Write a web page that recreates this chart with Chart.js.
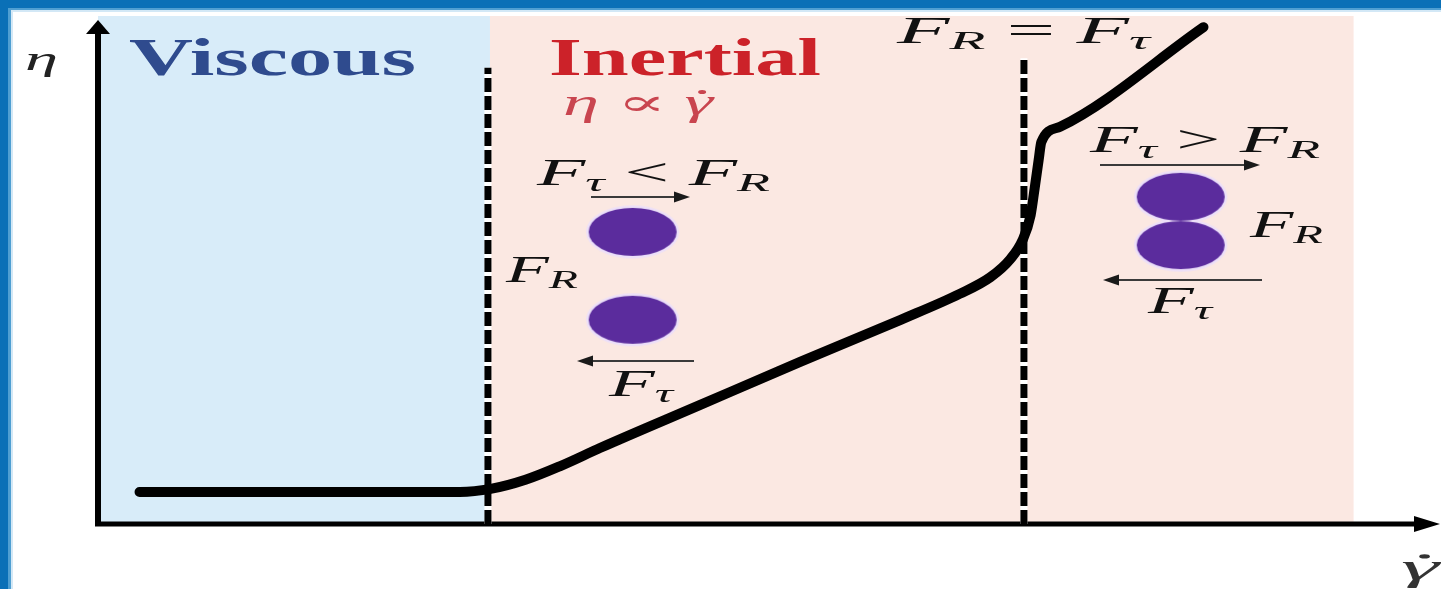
<!DOCTYPE html>
<html lang="en">
<head>
    <meta charset="UTF-8">
    <title>Viscous / Inertial regimes</title>
    <script src="https://cdn.jsdelivr.net/npm/chart.js"></script>
    <style>
        body { margin: 0; background: #fff; }
        canvas { display: block; }
    </style>
</head>
<body>
    <canvas id="regimeChart" width="1441" height="589"></canvas>

    <script>
        // viscosity curve, arbitrary units (shear rate on x, viscosity on y)
        const curveX = [0.31, 1.51, 2.70, 2.93, 3.19, 3.45, 3.75, 4.49, 5.24, 5.99, 6.43, 6.66, 6.81, 6.90, 6.96, 6.99, 7.02, 7.04, 7.18, 8.25];
        const curveY = [0.63, 0.63, 0.63, 0.69, 0.87, 1.14, 1.50, 2.34, 3.19, 4.02, 4.53, 4.86, 5.22, 5.59, 6.08, 6.61, 7.17, 7.52, 7.82, 9.78];

        // regime boundaries on the shear-rate axis
        const regimeNames = ["Viscous", "Inertial"];
        const regimeStart = [0, 2.925];
        const regimeEnd = [2.925, 9.37];

        // dashed transition lines
        const transitionX = [2.91, 6.91];
        const transitionTop = [8.98, 9.17];

        // particle sketches (two apart, two touching)
        const particleX = [3.99, 3.99, 8.08, 8.08];
        const particleY = [5.75, 4.02, 6.44, 5.49];

        const SERIF = '"Liberation Serif", "DejaVu Serif", serif';

        function ellipseCanvas(rx, ry, color) {
            const c = document.createElement("canvas");
            c.width = Math.ceil(rx * 2) + 2;
            c.height = Math.ceil(ry * 2) + 2;
            const g = c.getContext("2d");
            g.fillStyle = color;
            g.beginPath();
            g.ellipse(c.width / 2, c.height / 2, rx, ry, 0, 0, Math.PI * 2);
            g.fill();
            return c;
        }
        const haloImg = ellipseCanvas(46.5, 26.5, "#ecdff9");
        const coreImg = ellipseCanvas(44, 24, "#5b2c9d");

        // text pieces: [text, style] with style i = italic, s = italic subscript, r = roman, b = bold, d = italic with dot
        const labels = [
            { parts: [["η", "i"]], x: 25, base: 70, size: 34, w: 33, color: "#222" },
            { parts: [["Viscous", "b"]], x: 129, base: 75, size: 53, w: 287, color: "#2f4b8e" },
            { parts: [["Inertial", "b"]], x: 549, base: 75, size: 53, w: 272, color: "#cc2229" },
            { parts: [["η", "i"], [" ∝ ", "r"], ["γ", "d"]], x: 563, base: 115, size: 37, w: 150, color: "#c9454f" },
            { parts: [["F", "i"], ["R", "s"], [" = ", "r"], ["F", "i"], ["τ", "s"]], x: 897, base: 43, size: 38, w: 253, color: "#111" },
            { parts: [["F", "i"], ["τ", "s"], [" < ", "r"], ["F", "i"], ["R", "s"]], x: 537, base: 185, size: 38, w: 233, color: "#111" },
            { parts: [["F", "i"], ["R", "s"]], x: 506, base: 282, size: 38, w: 72, color: "#111" },
            { parts: [["F", "i"], ["τ", "s"]], x: 609, base: 396, size: 38, w: 64, color: "#111" },
            { parts: [["F", "i"], ["τ", "s"], [" > ", "r"], ["F", "i"], ["R", "s"]], x: 1090, base: 152, size: 38, w: 230, color: "#111" },
            { parts: [["F", "i"], ["R", "s"]], x: 1250, base: 237, size: 38, w: 73, color: "#111" },
            { parts: [["F", "i"], ["τ", "s"]], x: 1148, base: 313, size: 38, w: 64, color: "#111" },
            { parts: [["γ", "d"]], x: 1401, base: 580, size: 38, w: 38, color: "#333" }
        ];

        // force arrows: from x1 to tip x2 at height y
        const arrows = [
            [591, 690, 197],
            [694, 577, 361],
            [1100, 1260, 165],
            [1262, 1103, 280]
        ];

        function partFont(style, size) {
            if (style === "b") return "bold " + size + "px " + SERIF;
            if (style === "r") return size + "px " + SERIF;
            if (style === "s") return "italic " + Math.round(size * 0.68) + "px " + SERIF;
            return "italic " + size + "px " + SERIF;
        }

        function drawLabel(ctx, lab) {
            let natural = 0;
            lab.parts.forEach(p => {
                ctx.font = partFont(p[1], lab.size);
                natural += ctx.measureText(p[0]).width;
            });
            const sx = lab.w / natural;
            ctx.save();
            ctx.translate(lab.x, lab.base);
            ctx.scale(sx, 1);
            ctx.fillStyle = lab.color;
            ctx.textBaseline = "alphabetic";
            let cx = 0;
            lab.parts.forEach(p => {
                ctx.font = partFont(p[1], lab.size);
                const pw = ctx.measureText(p[0]).width;
                const dy = p[1] === "s" ? lab.size * 0.17 : 0;
                ctx.fillText(p[0], cx, dy);
                if (p[1] === "d") {
                    ctx.beginPath();
                    ctx.arc(cx + pw * 0.62, -lab.size * 0.62, lab.size * 0.055, 0, Math.PI * 2);
                    ctx.fill();
                }
                cx += pw;
            });
            ctx.restore();
        }

        function arrowHead(ctx, tipX, tipY, dirX, dirY, len, half) {
            const nx = -dirY, ny = dirX;
            ctx.beginPath();
            ctx.moveTo(tipX, tipY);
            ctx.lineTo(tipX - dirX * len + nx * half, tipY - dirY * len + ny * half);
            ctx.lineTo(tipX - dirX * len - nx * half, tipY - dirY * len - ny * half);
            ctx.closePath();
            ctx.fill();
        }

        const framePlugin = {
            id: "frame",
            beforeDraw(chart) {
                const ctx = chart.ctx;
                ctx.save();
                ctx.fillStyle = "#ffffff";
                ctx.fillRect(0, 0, chart.width, chart.height);
                ctx.fillStyle = "#d3e8f6";
                ctx.fillRect(0, 0, chart.width, 12);
                ctx.fillRect(0, 0, 13, chart.height);
                ctx.fillStyle = "#4f9fd2";
                ctx.fillRect(0, 0, chart.width, 10);
                ctx.fillRect(0, 0, 11, chart.height);
                ctx.fillStyle = "#0a70b7";
                ctx.fillRect(0, 0, chart.width, 8);
                ctx.fillRect(0, 0, 8, chart.height);
                ctx.restore();
            },
            beforeDatasetsDraw(chart) {
                const ctx = chart.ctx;
                const xs = chart.scales.x, ys = chart.scales.y;
                const fills = ["#d8ecf9", "#fbe8e2"];
                ctx.save();
                regimeNames.forEach((name, i) => {
                    const l = xs.getPixelForValue(regimeStart[i]);
                    const r = xs.getPixelForValue(regimeEnd[i]);
                    const t = ys.getPixelForValue(ys.max);
                    const b = ys.getPixelForValue(0);
                    ctx.fillStyle = fills[i];
                    ctx.fillRect(l, t, r - l, b - t);
                });

                // axes with arrow heads
                const x0 = xs.getPixelForValue(0), y0 = ys.getPixelForValue(0);
                ctx.strokeStyle = "#000";
                ctx.fillStyle = "#000";
                ctx.lineWidth = 6;
                ctx.beginPath();
                ctx.moveTo(x0, y0 + 2);
                ctx.lineTo(x0, 32);
                ctx.stroke();
                arrowHead(ctx, x0, 20, 0, -1, 14, 12);
                ctx.lineWidth = 5;
                ctx.beginPath();
                ctx.moveTo(x0 - 3, y0);
                ctx.lineTo(1418, y0);
                ctx.stroke();
                arrowHead(ctx, 1440, y0, 1, 0, 26, 8);
                ctx.restore();
            },
            afterDatasetsDraw(chart) {
                const ctx = chart.ctx;
                ctx.save();
                ctx.strokeStyle = "#3a3a3a";
                ctx.fillStyle = "#1a1a1a";
                ctx.lineWidth = 2;
                arrows.forEach(a => {
                    const dir = a[1] > a[0] ? 1 : -1;
                    ctx.beginPath();
                    ctx.moveTo(a[0], a[2]);
                    ctx.lineTo(a[1] - dir * 10, a[2]);
                    ctx.stroke();
                    arrowHead(ctx, a[1], a[2], dir, 0, 16, 5.5);
                });
                labels.forEach(lab => drawLabel(ctx, lab));
                ctx.restore();
            }
        };

        const curve = curveX.map((x, i) => ({ x: x, y: curveY[i] }));
        const particles = particleX.map((x, i) => ({ x: x, y: particleY[i] }));

        const datasets = [{
            label: "viscosity",
            data: curve,
            borderColor: "#000",
            borderWidth: 10,
            cubicInterpolationMode: "monotone",
            pointRadius: 0,
            borderCapStyle: "round",
            clip: false,
            order: 0
        }];

        transitionX.forEach((tx, i) => {
            const pts = [{ x: tx, y: 0 }, { x: tx, y: transitionTop[i] }];
            datasets.push({
                label: "transition " + (i + 1),
                data: pts,
                borderColor: "#000",
                borderWidth: 7,
                borderDash: [14, 4],
                pointRadius: 0,
                clip: false,
                order: 3
            });
            datasets.push({
                label: "transition gap " + (i + 1),
                data: pts,
                borderColor: "#ffffff",
                borderWidth: 7,
                pointRadius: 0,
                clip: false,
                order: 4
            });
        });

        datasets.push({
            type: "scatter",
            label: "particles",
            data: particles,
            pointStyle: coreImg,
            pointRadius: 24,
            clip: false,
            order: 1
        });
        datasets.push({
            type: "scatter",
            label: "particle halo",
            data: particles,
            pointStyle: haloImg,
            pointRadius: 26,
            clip: false,
            order: 2
        });

        const ctx = document.getElementById("regimeChart").getContext("2d");
        new Chart(ctx, {
            type: "line",
            data: { datasets: datasets },
            options: {
                responsive: false,
                animation: false,
                devicePixelRatio: 1,
                layout: { autoPadding: false, padding: { left: 98, right: 3, top: 16, bottom: 65 } },
                plugins: {
                    legend: { display: false },
                    tooltip: { enabled: false }
                },
                scales: {
                    x: { type: "linear", min: 0, max: 10, display: false },
                    y: { type: "linear", min: 0, max: 10, display: false }
                }
            },
            plugins: [framePlugin]
        });
    </script>
</body>
</html>
